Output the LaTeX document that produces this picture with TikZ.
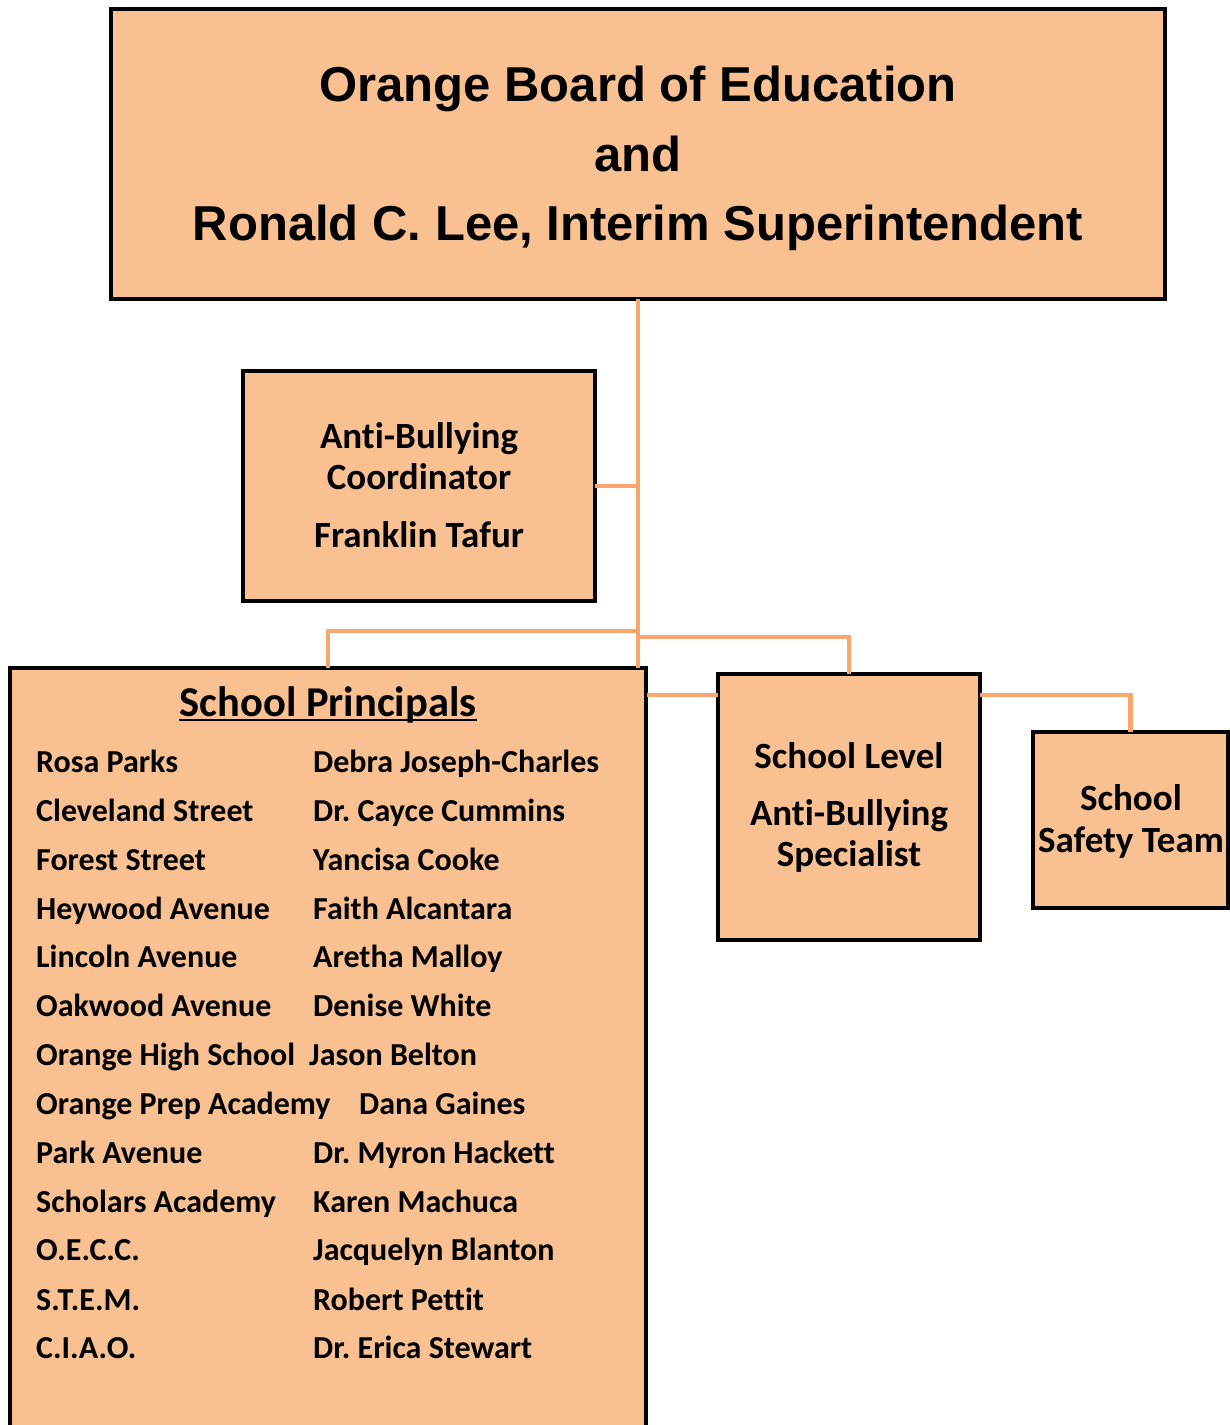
\documentclass[tikz,border=0pt]{standalone}
\usepackage{fontspec}
\setmainfont{Carlito}[Ligatures=NoCommon]
\newfontfamily\arialfont{Liberation Sans}
\frenchspacing
\definecolor{peach}{HTML}{F9C091}
\definecolor{lineor}{HTML}{F8A66C}
\begin{document}
\begin{tikzpicture}[x=1pt,y=-1pt,
  box/.style={draw=black,line width=4pt,fill=peach,rectangle,inner sep=0pt,outer sep=0pt},
  conn/.style={draw=lineor,line width=4.5pt},
  ttl/.style={anchor=base,inner sep=0pt,font=\arialfont\bfseries\fontsize{49}{49}\selectfont},
  btxt/.style={anchor=base,inner sep=0pt,font=\bfseries\fontsize{37}{37}\selectfont},
  ltxt/.style={anchor=base west,inner sep=0pt,font=\bfseries\fontsize{32}{32}\selectfont}]
\clip (0,0) rectangle (1230,1425);
\fill[white] (0,0) rectangle (1230,1425);
% boxes
\node[box,minimum width=1054pt,minimum height=290pt] (top) at (638,154) {};
\node[box,minimum width=352pt,minimum height=230pt] (abc) at (419,486) {};
\node[box,minimum width=636pt,minimum height=772pt] (prin) at (328,1054) {};
\node[box,minimum width=262pt,minimum height=266pt] (spec) at (849,807) {};
\node[box,minimum width=195pt,minimum height=176pt] (safe) at (1130.5,820) {};
% connectors
\coordinate (j1) at (637,631);
\coordinate (j2) at (637,637);
\coordinate (j3) at (647,695);
\coordinate (j4) at (980,695);
\draw[conn] (top.south) -- (top.south |- prin.north);
\draw[conn] (abc.east) -- (abc.east -| top.south);
\draw[conn] (j1) -| (prin.north);
\draw[conn] (j2) -| (spec.north);
\draw[conn] (j3) -- (j3 -| spec.west);
\draw[conn] (j4) -| (safe.north);
% title text
\node[ttl] (t1) at (638,101) {Orange Board of Education};
\node[ttl] (t2) at (638,171) {and};
\node[ttl] (t3) at (638,240) {Ronald C. Lee, Interim Superintendent};
% anti-bullying coordinator
\node[btxt] (a1) at (419,448) {Anti-Bullying};
\node[btxt] (a2) at (419,489) {Coordinator};
\node[btxt] (a3) at (419,547) {Franklin Tafur};
% specialist
\node[btxt] (s1) at (849,768) {School Level};
\node[btxt] (s2) at (849,825) {Anti-Bullying};
\node[btxt] (s3) at (849,866) {Specialist};
% safety
\node[btxt] (f1) at (1131,810) {School};
\node[btxt] (f2) at (1131,852) {Safety Team};
% principals header
\node[anchor=base,inner sep=0pt,font=\bfseries\fontsize{42.5}{42.5}\selectfont] (hdr) at (328,716) {School Principals};
\draw[line width=2.5pt] ([yshift=-4pt]hdr.base west) -- ([yshift=-4pt]hdr.base east);
% list
\node[ltxt] (l1) at (36,772) {Rosa Parks};
\node[ltxt] (r1) at (313,772) {Debra Joseph-Charles};
\node[ltxt] (l2) at (36,821) {Cleveland Street};
\node[ltxt] (r2) at (313,821) {Dr. Cayce Cummins};
\node[ltxt] (l3) at (36,870) {Forest Street};
\node[ltxt] (r3) at (313,870) {Yancisa Cooke};
\node[ltxt] (l4) at (36,919) {Heywood Avenue};
\node[ltxt] (r4) at (313,919) {Faith Alcantara};
\node[ltxt] (l5) at (36,967) {Lincoln Avenue};
\node[ltxt] (r5) at (313,967) {Aretha Malloy};
\node[ltxt] (l6) at (36,1016) {Oakwood Avenue};
\node[ltxt] (r6) at (313,1016) {Denise White};
\node[ltxt] (l7) at (36,1065) {Orange High School};
\node[ltxt] (r7) at (309,1065) {Jason Belton};
\node[ltxt] (l8) at (36,1114) {Orange Prep Academy};
\node[ltxt] (r8) at (359,1114) {Dana Gaines};
\node[ltxt] (l9) at (36,1163) {Park Avenue};
\node[ltxt] (r9) at (313,1163) {Dr. Myron Hackett};
\node[ltxt] (l10) at (36,1212) {Scholars Academy};
\node[ltxt] (r10) at (313,1212) {Karen Machuca};
\node[ltxt] (l11) at (36,1260) {O.E.C.C.};
\node[ltxt] (r11) at (313,1260) {Jacquelyn Blanton};
\node[ltxt] (l12) at (36,1310) {S.T.E.M.};
\node[ltxt] (r12) at (313,1310) {Robert Pettit};
\node[ltxt] (l13) at (36,1358) {C.I.A.O.};
\node[ltxt] (r13) at (313,1358) {Dr. Erica Stewart};
\end{tikzpicture}
\end{document}
